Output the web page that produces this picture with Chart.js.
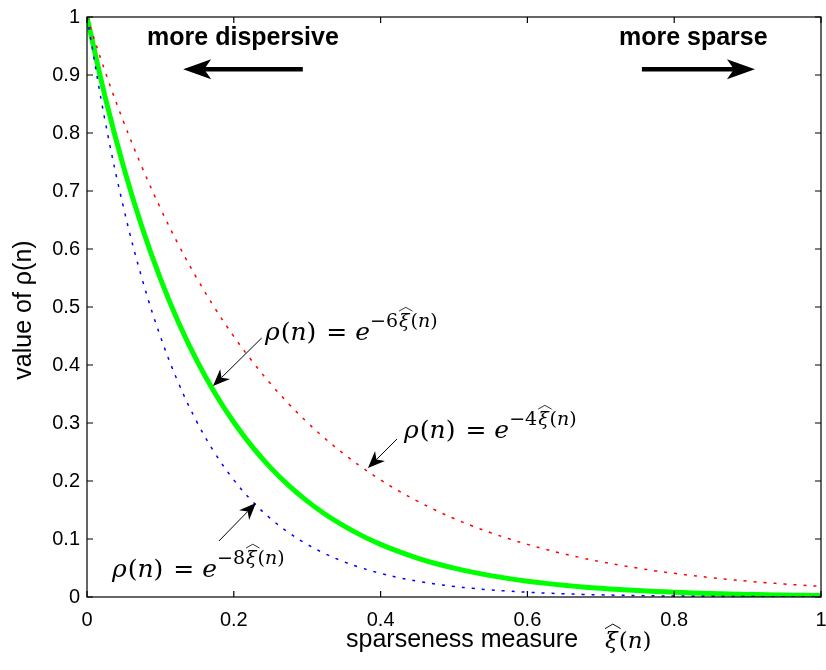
<!DOCTYPE html>
<html><head><meta charset="utf-8">
<style>html,body{margin:0;padding:0;background:#fff;}canvas{display:block;}</style>
<script src="https://cdn.jsdelivr.net/npm/chart.js@4/dist/chart.umd.min.js"></script>
</head><body>
<canvas id="c" width="826" height="670"></canvas>
<script>
// sparseness measure values (x)
const xs = [0,0.025,0.05,0.075,0.1,0.125,0.15,0.175,0.2,0.225,0.25,0.275,0.3,0.325,0.35,0.375,0.4,0.425,0.45,0.475,0.5,0.525,0.55,0.575,0.6,0.625,0.65,0.675,0.7,0.725,0.75,0.775,0.8,0.825,0.85,0.875,0.9,0.925,0.95,0.975,1];
// rho(n) for the three curves
const rhoExp4 = [1,0.9048,0.8187,0.7408,0.6703,0.6065,0.5488,0.4966,0.4493,0.4066,0.3679,0.3329,0.3012,0.2725,0.2466,0.2231,0.2019,0.1827,0.1653,0.1496,0.1353,0.1225,0.1108,0.1003,0.0907,0.0821,0.0743,0.0672,0.0608,0.0550,0.0498,0.0450,0.0408,0.0369,0.0334,0.0302,0.0273,0.0247,0.0224,0.0202,0.0183];
const rhoExp6 = [1,0.8607,0.7408,0.6376,0.5488,0.4724,0.4066,0.3499,0.3012,0.2592,0.2231,0.1920,0.1653,0.1423,0.1225,0.1054,0.0907,0.0781,0.0672,0.0578,0.0498,0.0429,0.0369,0.0317,0.0273,0.0235,0.0202,0.0174,0.0150,0.0129,0.0111,0.0096,0.0082,0.0071,0.0061,0.0052,0.0045,0.0039,0.0033,0.0029,0.0025];
const rhoExp8 = [1,0.8187,0.6703,0.5488,0.4493,0.3679,0.3012,0.2466,0.2019,0.1653,0.1353,0.1108,0.0907,0.0743,0.0608,0.0498,0.0408,0.0334,0.0273,0.0224,0.0183,0.0150,0.0123,0.0101,0.0082,0.0067,0.0055,0.0045,0.0037,0.0030,0.0025,0.0020,0.0017,0.0014,0.0011,0.0009,0.0007,0.0006,0.0005,0.0004,0.0003];
// tick values and labels
const xTicks = [0,0.2,0.4,0.6,0.8,1];
const xTickLabels = ['0','0.2','0.4','0.6','0.8','1'];
const yTicks = [0,0.1,0.2,0.3,0.4,0.5,0.6,0.7,0.8,0.9,1];
const yTickLabels = ['0','0.1','0.2','0.3','0.4','0.5','0.6','0.7','0.8','0.9','1'];
// annotation texts
const xTitle = 'sparseness measure';
const yTitle = 'value of \u03C1(n)';
const leftNote = 'more dispersive';
const rightNote = 'more sparse';
const curveCoefs = ['6','4','8'];

const pts = v => xs.map((x,i)=>({x:x,y:v[i]}));

const SANS = '"Liberation Sans", Arial, Helvetica, sans-serif';
const SERIF = '"DejaVu Serif", "Liberation Serif", serif';

function arrowHead(ctx, tx, ty, ang, len, half, notch){
  ctx.save();
  ctx.translate(tx,ty); ctx.rotate(ang);
  ctx.beginPath();
  ctx.moveTo(0,0);
  ctx.lineTo(-len, -half);
  ctx.lineTo(-len*notch, 0);
  ctx.lineTo(-len, half);
  ctx.closePath();
  ctx.fill();
  ctx.restore();
}
function arrow(ctx, x0,y0,x1,y1, lw, len, half, notch){
  const ang = Math.atan2(y1-y0, x1-x0);
  ctx.save();
  ctx.strokeStyle='#000'; ctx.fillStyle='#000'; ctx.lineWidth=lw;
  ctx.beginPath(); ctx.moveTo(x0,y0);
  ctx.lineTo(x1 - Math.cos(ang)*len*0.7, y1 - Math.sin(ang)*len*0.7);
  ctx.stroke();
  arrowHead(ctx,x1,y1,ang,len,half,notch);
  ctx.restore();
}
// draw "xi-hat(n)" starting at x, baseline y, size s; returns end x
function drawXiHat(ctx, x, y, s){
  ctx.font = 'italic '+s+'px '+SERIF;
  const wx = ctx.measureText('\u03BE').width;
  ctx.fillText('\u03BE', x, y);
  ctx.save();
  ctx.lineWidth = Math.max(0.8, s/24);
  ctx.beginPath();
  ctx.moveTo(x, y - s*0.84);
  ctx.lineTo(x + wx/2 + 1.5, y - s*1.04);
  ctx.lineTo(x + wx + 3, y - s*0.84);
  ctx.stroke();
  ctx.restore();
  x += wx + 1;
  ctx.font = s+'px '+SERIF; ctx.fillText('(', x, y); x += ctx.measureText('(').width;
  ctx.font = 'italic '+s+'px '+SERIF; ctx.fillText('n', x, y); x += ctx.measureText('n').width;
  ctx.font = s+'px '+SERIF; ctx.fillText(')', x, y); x += ctx.measureText(')').width;
  return x;
}
function drawRho(ctx, x, y, coef){
  const s = 25, e = 19;
  ctx.textAlign='left'; ctx.textBaseline='alphabetic'; ctx.fillStyle='#000'; ctx.strokeStyle='#000';
  ctx.font = 'italic '+s+'px '+SERIF; ctx.fillText('\u03C1', x, y); x += ctx.measureText('\u03C1').width+1;
  ctx.font = s+'px '+SERIF; ctx.fillText('(', x, y); x += ctx.measureText('(').width;
  ctx.font = 'italic '+s+'px '+SERIF; ctx.fillText('n', x, y); x += ctx.measureText('n').width;
  ctx.font = s+'px '+SERIF; ctx.fillText(')', x, y); x += ctx.measureText(')').width + 10;
  ctx.fillText('=', x, y); x += ctx.measureText('=').width + 8;
  ctx.font = 'italic '+s+'px '+SERIF; ctx.fillText('e', x, y); x += ctx.measureText('e').width;
  const ys = y - 13;
  ctx.font = e+'px '+SERIF; ctx.fillText('\u2212'+coef, x, ys); x += ctx.measureText('\u2212'+coef).width + 1;
  drawXiHat(ctx, x, ys, e);
}

const frame = {
  id:'frame',
  afterDraw(chart){
    const ctx = chart.ctx, xS = chart.scales.x, yS = chart.scales.y, a = chart.chartArea;
    ctx.save();
    ctx.strokeStyle='#000'; ctx.lineWidth=1.2;
    ctx.strokeRect(a.left, a.top, a.right-a.left, a.bottom-a.top);
    ctx.beginPath();
    xTicks.forEach(v=>{const p=xS.getPixelForValue(v);
      ctx.moveTo(p,a.bottom); ctx.lineTo(p,a.bottom-6); ctx.moveTo(p,a.top); ctx.lineTo(p,a.top+6);});
    yTicks.forEach(v=>{const p=yS.getPixelForValue(v);
      ctx.moveTo(a.left,p); ctx.lineTo(a.left+6,p); ctx.moveTo(a.right,p); ctx.lineTo(a.right-6,p);});
    ctx.stroke();

    const X = v=>xS.getPixelForValue(v), Y = v=>yS.getPixelForValue(v);
    // axis titles
    ctx.fillStyle='#000';
    ctx.font='25px '+SANS; ctx.textAlign='left'; ctx.textBaseline='alphabetic';
    ctx.fillText(xTitle, 346, 647);
    drawXiHat(ctx, 605, 648, 23);
    ctx.save();
    ctx.translate(31, 310); ctx.rotate(-Math.PI/2);
    ctx.font='25px '+SANS; ctx.textAlign='center';
    ctx.fillText(yTitle, 0, 0);
    ctx.restore();

    // direction notes
    ctx.font='bold 25px '+SANS; ctx.textAlign='center';
    ctx.fillText(leftNote, X(0.2125), Y(0.952));
    ctx.fillText(rightNote, X(0.826), Y(0.952));
    arrow(ctx, X(0.294), Y(0.910), X(0.131), Y(0.910), 4.5, 28, 10, 0.75);
    arrow(ctx, X(0.756), Y(0.910), X(0.910), Y(0.910), 4.5, 28, 10, 0.75);

    // curve labels
    ctx.textAlign='left';
    drawRho(ctx, X(0.2425), Y(0.443), curveCoefs[0]);
    arrow(ctx, X(0.238), Y(0.4466), X(0.1717), Y(0.3638), 1, 17, 7, 0.7);
    drawRho(ctx, X(0.432), Y(0.274), curveCoefs[1]);
    arrow(ctx, X(0.4223), Y(0.2724), X(0.3828), Y(0.2224), 1, 17, 7, 0.7);
    drawRho(ctx, X(0.034), Y(0.0345), curveCoefs[2]);
    arrow(ctx, X(0.1798), Y(0.0966), X(0.2302), Y(0.162), 1, 17, 7, 0.7);
    ctx.restore();
  }
};

new Chart(document.getElementById('c'), {
  type:'line',
  data:{datasets:[
    {label:'exp(-4ξ)', data:pts(rhoExp4), borderColor:'#ff0000', borderWidth:1.5, borderDash:[3,7], pointRadius:0, tension:0.4, fill:false},
    {label:'exp(-8ξ)', data:pts(rhoExp8), borderColor:'#0000ff', borderWidth:1.5, borderDash:[3,7], pointRadius:0, tension:0.4, fill:false},
    {label:'exp(-6ξ)', data:pts(rhoExp6), borderColor:'#00ff00', borderWidth:5, pointRadius:0, tension:0.4, fill:false}
  ]},
  options:{
    responsive:false, animation:false, devicePixelRatio:1,
    layout:{padding:{top:17,right:5,left:0,bottom:0}},
    plugins:{legend:{display:false}, tooltip:{enabled:false}},
    scales:{
      x:{type:'linear', min:0, max:1,
        afterBuildTicks:s=>{s.ticks = xTicks.map(v=>({value:v}));},
        afterFit:s=>{s.height=73; s.paddingLeft=0; s.paddingRight=0;},
        grid:{display:false, drawTicks:false}, border:{display:false},
        ticks:{color:'#000', font:{family:SANS, size:20}, padding:11, maxRotation:0, autoSkip:false,
          callback:(v,i)=>xTickLabels[i]}},
      y:{type:'linear', min:0, max:1,
        afterBuildTicks:s=>{s.ticks = yTicks.map(v=>({value:v}));},
        afterFit:s=>{s.width=87; s.paddingTop=0; s.paddingBottom=0;},
        grid:{display:false, drawTicks:false}, border:{display:false},
        ticks:{color:'#000', font:{family:SANS, size:20}, padding:7, autoSkip:false,
          callback:(v,i)=>yTickLabels[i]}}
    }
  },
  plugins:[frame]
});
</script>
</body></html>
